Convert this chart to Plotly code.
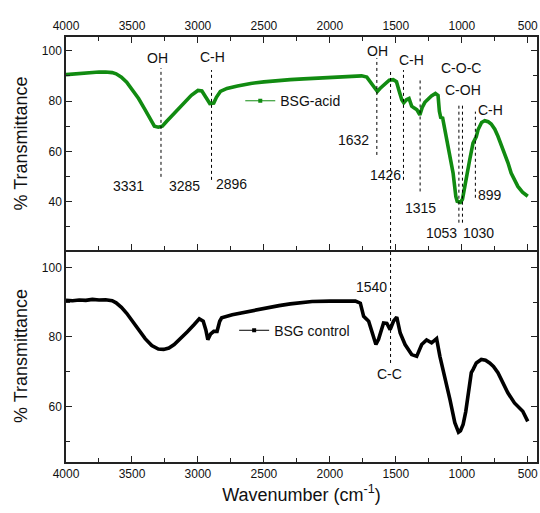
import plotly.graph_objects as go

# ---------------- data ----------------
acid_wn = [4000, 3950, 3900, 3850, 3800, 3750, 3700, 3650, 3620, 3580, 3540, 3500, 3450, 3400,
           3360, 3330, 3300, 3270, 3240, 3200, 3150, 3100, 3050, 3000, 2970, 2940, 2910, 2880,
           2860, 2830, 2780, 2700, 2600, 2500, 2400, 2300, 2200, 2100, 2000, 1900, 1800, 1760,
           1720, 1690, 1660, 1640, 1620, 1580, 1550, 1520, 1495, 1475, 1455, 1440, 1420, 1400,
           1380, 1360, 1340, 1318, 1300, 1280, 1250, 1230, 1200, 1180, 1170, 1160, 1145, 1130,
           1110, 1090, 1066, 1045, 1035, 1010, 995, 977, 960, 940, 915, 900, 890, 877, 850, 826,
           800, 777, 750, 726, 700, 676, 650, 626, 600, 575, 540, 500]
acid_T = [90.5, 90.7, 91.0, 91.3, 91.4, 91.5, 91.5, 91.3, 90.8, 89.5, 87.5, 84.8, 81.0, 76.5,
          72.5, 70.0, 69.6, 70.0, 71.8, 74.0, 77.0, 79.8, 82.3, 84.2, 84.0, 81.5, 79.0, 79.2,
          81.5, 83.8, 85.0, 86.0, 87.0, 87.6, 88.2, 88.5, 88.8, 89.0, 89.2, 89.5, 89.8, 90.0,
          89.5, 87.5, 85.0, 83.8, 85.0, 87.0, 88.3, 88.5, 87.7, 84.0, 80.5, 79.3, 80.5, 81.0,
          78.0, 77.2, 76.5, 74.5, 77.5, 79.5, 81.0, 82.0, 83.0, 82.2, 76.0, 73.5, 73.2, 69.0,
          64.0, 59.4, 51.4, 42.0, 40.2, 39.8, 41.0, 46.1, 51.5, 56.7, 63.3, 65.0, 65.9, 68.6, 71.5, 72.2,
          71.8, 70.9, 68.8, 66.0, 62.5, 59.4, 55.5, 51.4, 48.5, 46.1, 43.8, 42.2]

ctrl_wn = [4000, 3950, 3900, 3850, 3800, 3750, 3700, 3650, 3620, 3580, 3540, 3500, 3450, 3400,
           3350, 3300, 3260, 3220, 3180, 3130, 3080, 3030, 2990, 2960, 2940, 2925, 2905, 2880,
           2855, 2835, 2820, 2740, 2600, 2460, 2385, 2300, 2135, 2000, 1900, 1806, 1769, 1744,
           1706, 1681, 1651, 1631, 1593, 1568, 1543, 1518, 1493, 1467, 1430, 1380, 1342, 1304,
           1267, 1229, 1191, 1166, 1128, 1090, 1053, 1035, 1025, 1010, 990, 970, 952, 928, 915,
           890, 852, 820, 789, 760, 726, 690, 651, 601, 538, 500]
ctrl_T = [90.5, 90.4, 90.6, 90.5, 90.8, 90.6, 90.7, 90.4, 89.8, 88.5, 86.8, 84.8, 82.0, 79.5,
          77.5, 76.5, 76.4, 76.8, 77.8, 79.5, 81.5, 83.5, 85.2, 84.5, 82.0, 79.2, 80.8, 81.6,
          81.6, 84.5, 85.5, 86.4, 87.5, 88.6, 89.0, 89.5, 90.2, 90.3, 90.4, 90.3, 89.7, 85.9,
          84.5, 81.1, 77.8, 79.3, 84.0, 83.9, 82.1, 84.5, 85.7, 81.1, 77.8, 74.9, 74.4, 77.8,
          79.1, 78.3, 79.5, 74.4, 68.7, 62.0, 55.3, 53.0, 52.6, 53.0, 54.8, 58.5, 62.9, 69.7, 70.6,
          72.5, 73.5, 73.3, 72.5, 71.5, 69.7, 67.0, 63.9, 61.0, 58.6, 55.7]

series_names = ["BSG-acid", "BSG control"]

# peak marker lines in the top panel: wavenumber, y from, y to
top_line_wn = [3280, 2897, 1644, 1442, 1316, 1022, 995, 897]
top_line_y0 = [49.9, 48.7, 58.6, 48.7, 44.1, 31.7, 31.7, 41.6]
top_line_y1 = [93.1, 92.3, 97.1, 92.3, 88.4, 78.5, 78.5, 75.8]

# C-C line crossing both panels (wavenumber, paper y from, to)
cc_line_wn = 1540
cc_line_paper = [0.233, 0.918]

# text labels: top panel
top_text = ["OH", "C-H", "3331", "3285", "2896", "OH", "1632", "1426", "C-H", "1315",
            "C-O-C", "C-OH", "1053", "1030", "899", "C-H"]
top_text_wn = [3304, 2890, 3530, 3101, 2746, 1636, 1819, 1580, 1380, 1316,
               1007, 990, 1154, 877, 789, 781]
top_text_T = [97.1, 97.5, 46.4, 46.4, 47.1, 100.0, 64.6, 50.7, 96.3, 37.6,
              93.0, 84.4, 27.6, 27.6, 42.8, 76.5]

# text labels: bottom panel
bot_text = ["1540", "C-C"]
bot_text_wn = [1681, 1550]
bot_text_T = [94.5, 69.4]

# ---------------- figure ----------------
FONT = "Arial, 'Liberation Sans', sans-serif"
GREEN = "#118b11"

fig = go.Figure()

fig.add_trace(go.Scatter(x=acid_wn, y=acid_T, mode="lines", xaxis="x2", yaxis="y2",
                         line=dict(color=GREEN, width=3.6), showlegend=False, hoverinfo="skip"))
fig.add_trace(go.Scatter(x=ctrl_wn, y=ctrl_T, mode="lines", xaxis="x", yaxis="y",
                         line=dict(color="black", width=3.6), showlegend=False, hoverinfo="skip"))

# legend entries (thin line + small square marker, as in the original)
fig.add_trace(go.Scatter(x=[None], y=[None], mode="lines+markers", name=series_names[0],
                         xaxis="x2", yaxis="y2", legend="legend",
                         line=dict(color=GREEN, width=1),
                         marker=dict(symbol="square", size=4, color=GREEN)))
fig.add_trace(go.Scatter(x=[None], y=[None], mode="lines+markers", name=series_names[1],
                         xaxis="x", yaxis="y", legend="legend2",
                         line=dict(color="black", width=1),
                         marker=dict(symbol="square", size=4, color="black")))

shapes = []
for wn, a, b in zip(top_line_wn, top_line_y0, top_line_y1):
    shapes.append(dict(type="line", xref="x2", yref="y2", x0=wn, x1=wn, y0=a, y1=b,
                       line=dict(color="black", width=1, dash="3px,3px")))
shapes.append(dict(type="line", xref="x", yref="paper", x0=cc_line_wn, x1=cc_line_wn,
                   y0=cc_line_paper[0], y1=cc_line_paper[1],
                   line=dict(color="black", width=1, dash="3px,3px")))

annotations = []
for t, wn, v in zip(top_text, top_text_wn, top_text_T):
    annotations.append(dict(text=t, x=wn, y=v, xref="x2", yref="y2", showarrow=False,
                            font=dict(family=FONT, size=14, color="#111")))
for t, wn, v in zip(bot_text, bot_text_wn, bot_text_T):
    annotations.append(dict(text=t, x=wn, y=v, xref="x", yref="y", showarrow=False,
                            font=dict(family=FONT, size=14, color="#111")))

axis_common = dict(showline=True, linecolor="#222", linewidth=1.5, ticks="inside",
                   tickcolor="#222", ticklen=6, tickwidth=1.3, showgrid=False, zeroline=False,
                   tickfont=dict(family=FONT, size=12, color="#111"))

fig.update_layout(
    width=540, height=513,
    margin=dict(l=66, r=1, t=37, b=51),
    paper_bgcolor="white", plot_bgcolor="white",
    shapes=shapes, annotations=annotations,
    xaxis=dict(**axis_common, range=[4000, 430], anchor="y", side="bottom", mirror=False,
               dtick=500, tick0=0, ticklabeloverflow="allow",
               minor=dict(dtick=250, ticks="inside", ticklen=4, tickcolor="#222", showgrid=False),
               title=dict(text="Wavenumber (cm<sup>-1</sup>)",
                          font=dict(family=FONT, size=18, color="#111"), standoff=8)),
    xaxis2=dict(**axis_common, range=[4000, 430], anchor="y2", side="top", mirror="ticks",
                matches="x", dtick=500, tick0=0, ticklabeloverflow="allow",
                minor=dict(dtick=250, ticks="inside", ticklen=4, tickcolor="#222", showgrid=False)),
    yaxis=dict(**axis_common, domain=[0, 0.4988], range=[44, 105], anchor="x", mirror="ticks",
               dtick=20, tick0=0,
               minor=dict(dtick=10, ticks="inside", ticklen=4, tickcolor="#222", showgrid=False),
               title=dict(text="% Transmittance", font=dict(family=FONT, size=18, color="#111"),
                          standoff=10)),
    yaxis2=dict(**axis_common, domain=[0.4988, 1], range=[20.85, 105.43], anchor="x2",
                mirror="ticks", dtick=20, tick0=0,
                minor=dict(dtick=10, ticks="inside", ticklen=4, tickcolor="#222", showgrid=False),
                title=dict(text="% Transmittance", font=dict(family=FONT, size=18, color="#111"),
                           standoff=10)),
    legend=dict(x=0.37, y=0.849, xanchor="left", yanchor="middle", bgcolor="rgba(0,0,0,0)",
                font=dict(family=FONT, size=14, color="#111")),
    legend2=dict(x=0.357, y=0.309, xanchor="left", yanchor="middle", bgcolor="rgba(0,0,0,0)",
                 font=dict(family=FONT, size=14, color="#111")),
)

fig.write_html("out.html")
